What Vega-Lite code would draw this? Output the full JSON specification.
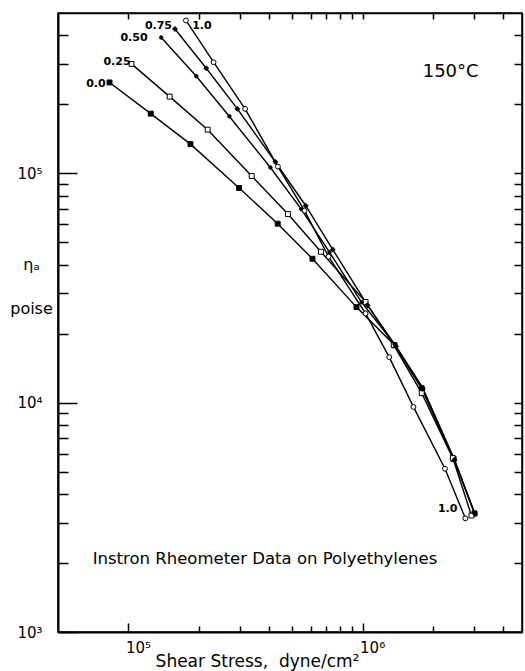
{
  "$schema": "https://vega.github.io/schema/vega-lite/v6.json",
  "width": 464,
  "height": 619,
  "autosize": "none",
  "padding": {"left": 58, "top": 13, "right": 3, "bottom": 39},
  "background": "white",
  "config": {
    "view": {"stroke": "black", "strokeWidth": 1.5},
    "font": "DejaVu Sans",
    "axis": {"grid": false, "domainColor": "black", "tickColor": "black", "labelColor": "black", "titleColor": "black", "labelFont": "DejaVu Sans", "titleFont": "DejaVu Sans", "titleFontWeight": "normal"}
  },
  "datasets": {
    "curves": [
      {"series": "0.0", "stress": 83000, "viscosity": 249000},
      {"series": "0.0", "stress": 124500, "viscosity": 182000},
      {"series": "0.0", "stress": 184000, "viscosity": 134000},
      {"series": "0.0", "stress": 297000, "viscosity": 86300},
      {"series": "0.0", "stress": 434000, "viscosity": 60300},
      {"series": "0.0", "stress": 611000, "viscosity": 42400},
      {"series": "0.0", "stress": 942000, "viscosity": 26100},
      {"series": "0.0", "stress": 1370000, "viscosity": 17800},
      {"series": "0.0", "stress": 1790000, "viscosity": 11500},
      {"series": "0.0", "stress": 2450000, "viscosity": 5690},
      {"series": "0.0", "stress": 3010000, "viscosity": 3290},
      {"series": "0.25", "stress": 103000, "viscosity": 300000},
      {"series": "0.25", "stress": 150000, "viscosity": 216000},
      {"series": "0.25", "stress": 218000, "viscosity": 155000},
      {"series": "0.25", "stress": 336000, "viscosity": 97300},
      {"series": "0.25", "stress": 480000, "viscosity": 66400},
      {"series": "0.25", "stress": 664000, "viscosity": 45500},
      {"series": "0.25", "stress": 1030000, "viscosity": 27500},
      {"series": "0.25", "stress": 1360000, "viscosity": 17800},
      {"series": "0.25", "stress": 1790000, "viscosity": 11000},
      {"series": "0.25", "stress": 2430000, "viscosity": 5730},
      {"series": "0.25", "stress": 2920000, "viscosity": 3220},
      {"series": "0.50", "stress": 138000, "viscosity": 391000},
      {"series": "0.50", "stress": 195000, "viscosity": 265000},
      {"series": "0.50", "stress": 270000, "viscosity": 177000},
      {"series": "0.50", "stress": 404000, "viscosity": 106000},
      {"series": "0.50", "stress": 547000, "viscosity": 69800},
      {"series": "0.50", "stress": 722000, "viscosity": 45300},
      {"series": "0.50", "stress": 991000, "viscosity": 27400},
      {"series": "0.50", "stress": 1370000, "viscosity": 18000},
      {"series": "0.50", "stress": 1800000, "viscosity": 11700},
      {"series": "0.50", "stress": 2470000, "viscosity": 5650},
      {"series": "0.50", "stress": 3030000, "viscosity": 3250},
      {"series": "0.75", "stress": 158000, "viscosity": 426000},
      {"series": "0.75", "stress": 215000, "viscosity": 287000},
      {"series": "0.75", "stress": 292000, "viscosity": 191000},
      {"series": "0.75", "stress": 424000, "viscosity": 112000},
      {"series": "0.75", "stress": 572000, "viscosity": 72200},
      {"series": "0.75", "stress": 746000, "viscosity": 46500},
      {"series": "0.75", "stress": 1050000, "viscosity": 26600},
      {"series": "0.75", "stress": 1390000, "viscosity": 17600},
      {"series": "0.75", "stress": 1810000, "viscosity": 11500},
      {"series": "0.75", "stress": 2470000, "viscosity": 5600},
      {"series": "0.75", "stress": 3010000, "viscosity": 3290},
      {"series": "1.0", "stress": 176000, "viscosity": 464000},
      {"series": "1.0", "stress": 231000, "viscosity": 305000},
      {"series": "1.0", "stress": 315000, "viscosity": 191000},
      {"series": "1.0", "stress": 435000, "viscosity": 107000},
      {"series": "1.0", "stress": 565000, "viscosity": 68700},
      {"series": "1.0", "stress": 716000, "viscosity": 43300},
      {"series": "1.0", "stress": 1030000, "viscosity": 24500},
      {"series": "1.0", "stress": 1300000, "viscosity": 15800},
      {"series": "1.0", "stress": 1650000, "viscosity": 9580},
      {"series": "1.0", "stress": 2250000, "viscosity": 5150},
      {"series": "1.0", "stress": 2750000, "viscosity": 3130}
    ],
    "labels": [
      {"label": "0.0", "x": 72600, "y": 245000},
      {"label": "0.25", "x": 89300, "y": 306000},
      {"label": "0.50", "x": 105600, "y": 390000},
      {"label": "0.75", "x": 134300, "y": 440000},
      {"label": "1.0", "x": 206000, "y": 440000},
      {"label": "1.0", "x": 2310000, "y": 3450}
    ],
    "notes": [
      {"note": "150°C", "x": 2380000, "y": 277000},
      {"note": "Instron Rheometer Data on Polyethylenes", "x": 383000, "y": 2090}
    ]
  },
  "resolve": {"axis": {"x": "independent", "y": "independent"}},
  "layer": [
    {
      "data": {"name": "curves"},
      "mark": {"type": "line", "color": "black", "strokeWidth": 1.4},
      "encoding": {
        "x": {
          "field": "stress", "type": "quantitative",
          "scale": {"type": "log", "domain": [50000, 4800000], "nice": false},
          "axis": {
            "orient": "bottom",
            "values": [200000, 300000, 400000, 500000, 600000, 700000, 800000, 900000, 2000000, 3000000, 4000000],
            "labels": false, "title": null, "domain": false,
            "tickSize": -6, "tickWidth": 1.5
          }
        },
        "y": {
          "field": "viscosity", "type": "quantitative",
          "scale": {"type": "log", "domain": [1000, 500000], "nice": false},
          "axis": {
            "orient": "left",
            "values": [2000, 3000, 4000, 5000, 6000, 7000, 8000, 9000, 20000, 30000, 40000, 50000, 60000, 70000, 80000, 90000, 200000, 300000, 400000],
            "labels": false, "title": null, "domain": false,
            "tickSize": -10, "tickWidth": 1.5
          }
        },
        "detail": {"field": "series"},
        "order": {"field": "stress"}
      }
    },
    {
      "data": {"name": "curves"},
      "mark": {"type": "point", "stroke": "black", "strokeWidth": 1, "opacity": 1},
      "encoding": {
        "x": {
          "field": "stress", "type": "quantitative",
          "scale": {"type": "log", "domain": [50000, 4800000], "nice": false},
          "axis": {
            "orient": "top",
            "values": [100000, 200000, 300000, 400000, 500000, 600000, 700000, 800000, 900000, 1000000, 2000000, 3000000, 4000000],
            "labels": false, "title": null, "tickSize": -6, "tickWidth": 1.5, "domainWidth": 1.5
          }
        },
        "y": {
          "field": "viscosity", "type": "quantitative",
          "scale": {"type": "log", "domain": [1000, 500000], "nice": false},
          "axis": {
            "orient": "right",
            "values": [2000, 3000, 4000, 5000, 6000, 7000, 8000, 9000, 10000, 20000, 30000, 40000, 50000, 60000, 70000, 80000, 90000, 100000, 200000, 300000, 400000],
            "labels": false, "title": null, "tickSize": -8, "tickWidth": 1.5, "domainWidth": 1.5
          }
        },
        "shape": {"field": "series", "type": "nominal", "scale": {"domain": ["0.0", "0.25", "0.50", "0.75", "1.0"], "range": ["square", "square", "circle", "diamond", "circle"]}, "legend": null},
        "fill": {"field": "series", "type": "nominal", "scale": {"domain": ["0.0", "0.25", "0.50", "0.75", "1.0"], "range": ["black", "white", "black", "black", "white"]}, "legend": null},
        "size": {"condition": {"test": "datum.series=='0.50'", "value": 12}, "value": 24}
      }
    },
    {
      "data": {"name": "labels"},
      "mark": {"type": "text", "fontSize": 11, "fontWeight": "bold", "align": "center", "baseline": "middle", "color": "black"},
      "encoding": {
        "x": {
          "field": "x", "type": "quantitative",
          "scale": {"type": "log", "domain": [50000, 4800000], "nice": false},
          "axis": {
            "orient": "bottom",
            "values": [100000, 1000000],
            "labelExpr": "datum.value==100000?'10⁵':'10⁶'",
            "tickSize": -9,
            "tickWidth": 1.5,
            "domainWidth": 2,
            "labelFontSize": 15,
            "labelPadding": 17,
            "labelAlign": "left",
            "labelOffset": -3,
            "labelOverlap": false,
            "labelFlush": false,
            "labelBound": false,
            "title": "Shear Stress,\u00a0\u00a0dyne/cm²",
            "titleFontSize": 17,
            "titleX": 199,
            "titleY": 29,
            "titleAlign": "center",
            "titleBaseline": "middle"
          }
        },
        "y": {
          "field": "y", "type": "quantitative",
          "scale": {"type": "log", "domain": [1000, 500000], "nice": false},
          "axis": {
            "orient": "left",
            "values": [1000, 10000, 100000],
            "labelExpr": "datum.value==1000?'10³':(datum.value==10000?'10⁴':'10⁵')",
            "tickSize": -19,
            "tickWidth": 1.5,
            "domainWidth": 2,
            "labelFontSize": 15,
            "labelPadding": 35,
            "labelOverlap": false,
            "labelFlush": false,
            "labelBound": false,
            "title": ["ηₐ", "poise"],
            "titleAngle": 0,
            "titleX": -27,
            "titleY": 251,
            "titleAlign": "center",
            "titleBaseline": "middle",
            "titleFontSize": 16,
            "titleLineHeight": 44
          }
        },
        "text": {"field": "label"}
      }
    },
    {
      "data": {"name": "notes"},
      "mark": {"type": "text", "align": "center", "baseline": "middle", "color": "black"},
      "encoding": {
        "x": {"field": "x", "type": "quantitative", "scale": {"type": "log", "domain": [50000, 4800000], "nice": false}, "axis": null},
        "y": {"field": "y", "type": "quantitative", "scale": {"type": "log", "domain": [1000, 500000], "nice": false}, "axis": null},
        "text": {"field": "note"},
        "size": {"condition": {"test": "datum.note=='150°C'", "value": 18}, "value": 16.5}
      }
    }
  ]
}
